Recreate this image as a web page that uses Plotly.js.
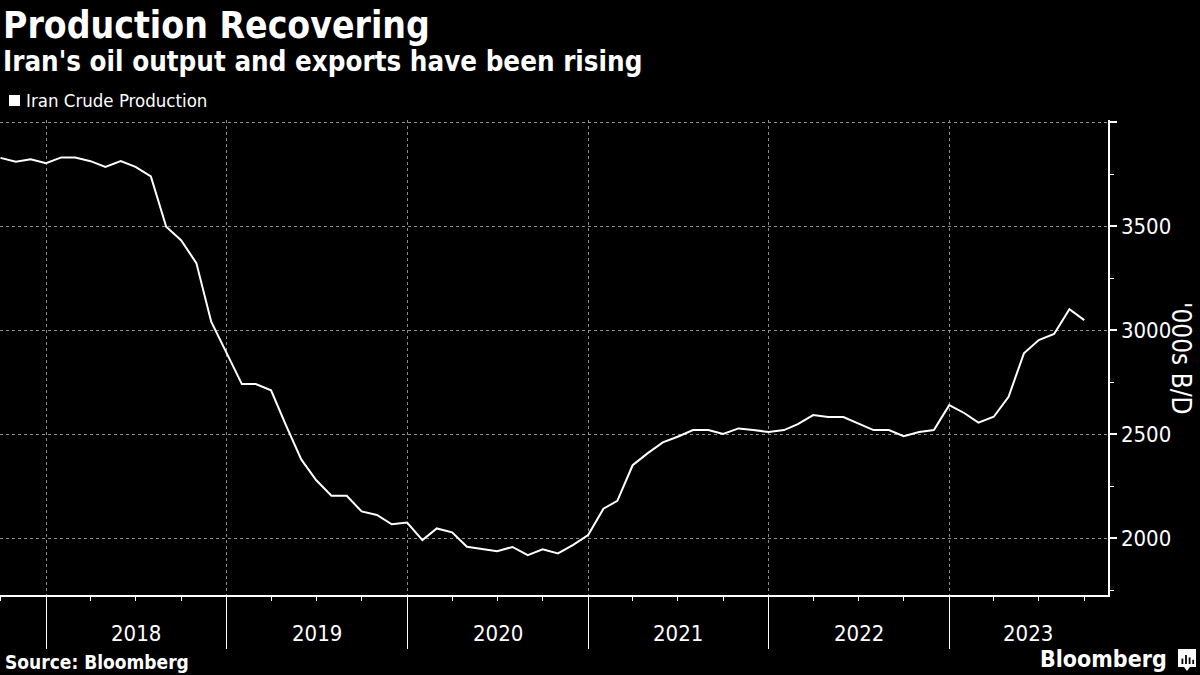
<!DOCTYPE html>
<html>
<head>
<meta charset="utf-8">
<script src="https://cdn.plot.ly/plotly-3.0.1.min.js"></script>
<style>
  html, body { margin: 0; padding: 0; background: #000; }
  #chart { width: 1200px; height: 675px; }
</style>
</head>
<body>
<div id="chart"></div>
<script>
// ---- DATA ----
const months = [
  '2017-10-01','2017-11-01','2017-12-01',
  '2018-01-01','2018-02-01','2018-03-01','2018-04-01','2018-05-01','2018-06-01','2018-07-01','2018-08-01','2018-09-01','2018-10-01','2018-11-01','2018-12-01',
  '2019-01-01','2019-02-01','2019-03-01','2019-04-01','2019-05-01','2019-06-01','2019-07-01','2019-08-01','2019-09-01','2019-10-01','2019-11-01','2019-12-01',
  '2020-01-01','2020-02-01','2020-03-01','2020-04-01','2020-05-01','2020-06-01','2020-07-01','2020-08-01','2020-09-01','2020-10-01','2020-11-01','2020-12-01',
  '2021-01-01','2021-02-01','2021-03-01','2021-04-01','2021-05-01','2021-06-01','2021-07-01','2021-08-01','2021-09-01','2021-10-01','2021-11-01','2021-12-01',
  '2022-01-01','2022-02-01','2022-03-01','2022-04-01','2022-05-01','2022-06-01','2022-07-01','2022-08-01','2022-09-01','2022-10-01','2022-11-01','2022-12-01',
  '2023-01-01','2023-02-01','2023-03-01','2023-04-01','2023-05-01','2023-06-01','2023-07-01','2023-08-01','2023-09-01','2023-10-01'
];
const iranCrudeProduction = [
  3828, 3809, 3821,
  3802, 3830, 3830, 3812, 3784, 3812, 3785, 3739, 3497, 3432, 3322, 3040,
  2893, 2740, 2740, 2710, 2543, 2378, 2279, 2203, 2203, 2128, 2111, 2066,
  2074, 1990, 2046, 2027, 1958, 1947, 1937, 1957, 1918, 1946, 1926, 1966,
  2014, 2141, 2179, 2350, 2407, 2460, 2487, 2519, 2519, 2500, 2527, 2519,
  2510, 2519, 2548, 2591, 2582, 2582, 2550, 2519, 2519, 2490, 2510, 2519,
  2639, 2600, 2555, 2583, 2679, 2888, 2952, 2981, 3100, 3048
];
const years = ['2018', '2019', '2020', '2021', '2022', '2023'];
const yTickVals = [2000, 2500, 3000, 3500, 4000];
const yTickText = ['2000', '2500', '3000', '3500', ''];
const seriesName = 'Iran Crude Production';
const titleText = 'Production Recovering';
const subtitleText = "Iran's oil output and exports have been rising";
const yTitleText = "'000s B/D";
const sourceText = 'Source: Bloomberg';
const logoBars = [0.45, 0.75, 0.55, 0.35]; // relative bar heights in logo mark (decorative)

// ---- LAYOUT GEOMETRY ----
const W = 1200, H = 675;
const M = { l: 0, r: 92, t: 120, b: 80 };
const plotW = W - M.l - M.r, plotH = H - M.t - M.b;
const px = x => (x - M.l) / plotW;          // pixel -> paper x
const py = y => (H - M.b - y) / plotH;      // pixel -> paper y
const xRange = ['2017-09-30', '2023-11-18'];
const yRange = [1726, 4010];

const narrow = '"Liberation Sans Narrow", "DejaVu Sans Condensed", "Arial Narrow", "Roboto Condensed", "Liberation Sans", sans-serif';

// Year label positions: middle of each year's visible span
const rangeEnd = new Date(xRange[1] + 'T00:00:00Z').getTime();
const yearAnnotations = years.map(y => {
  const s = new Date(y + '-01-01T00:00:00Z').getTime();
  const e = Math.min(new Date((+y + 1) + '-01-01T00:00:00Z').getTime(), rangeEnd);
  const mid = new Date((s + e) / 2).toISOString().slice(0, 10);
  return {
    x: mid, xref: 'x', y: py(633), yref: 'paper',
    text: y, showarrow: false, xanchor: 'center', yanchor: 'middle',
    font: { family: narrow, size: 22, color: '#ffffff' }
  };
});

const trace = {
  x: months,
  y: iranCrudeProduction,
  type: 'scatter',
  mode: 'lines',
  name: seriesName,
  line: { color: '#ffffff', width: 2 },
  showlegend: false,
  hoverinfo: 'x+y'
};

// Logo mark: white rounded-ish tile with small dark bars
const logoShapes = [
  { type: 'rect', xref: 'paper', yref: 'paper',
    x0: px(1178), x1: px(1196), y0: py(667), y1: py(649),
    fillcolor: '#ffffff', line: { width: 0 } },
  { type: 'path', xref: 'paper', yref: 'paper',
    path: 'M ' + px(1184) + ' ' + py(667) + ' L ' + px(1187) + ' ' + py(671) + ' L ' + px(1190) + ' ' + py(667) + ' Z',
    fillcolor: '#ffffff', line: { width: 0 } }
].concat(logoBars.map((h, i) => ({
  type: 'rect', xref: 'paper', yref: 'paper',
  x0: px(1181.5 + i * 3.6), x1: px(1183.3 + i * 3.6),
  y0: py(664), y1: py(664 - 12 * h),
  fillcolor: '#000000', line: { width: 0 }
})));

const layout = {
  width: W, height: H,
  margin: M,
  paper_bgcolor: '#000000',
  plot_bgcolor: '#000000',
  showlegend: false,
  xaxis: {
    type: 'date',
    range: xRange,
    showline: true, linecolor: '#ffffff', linewidth: 1.5,
    showgrid: true, gridcolor: '#8a8a8a', griddash: 'dot', gridwidth: 1,
    tick0: '2018-01-01', dtick: 'M12',
    ticks: 'outside', ticklen: 52, tickwidth: 1, tickcolor: '#ffffff',
    showticklabels: false,
    minor: { dtick: 'M3', tick0: '2018-01-01', ticks: 'outside', ticklen: 4, tickwidth: 1, tickcolor: '#ffffff', showgrid: false },
    zeroline: false, fixedrange: true
  },
  yaxis: {
    side: 'right',
    range: yRange,
    showline: true, linecolor: '#ffffff', linewidth: 1.5,
    showgrid: true, gridcolor: '#8a8a8a', griddash: 'dot', gridwidth: 1,
    tickmode: 'array', tickvals: yTickVals, ticktext: yTickText,
    ticks: 'outside', ticklen: 7, tickwidth: 2, tickcolor: '#ffffff',
    minor: { dtick: 250, tick0: 0, ticks: 'outside', ticklen: 4, tickwidth: 1, tickcolor: '#ffffff', showgrid: false },
    tickfont: { family: narrow, size: 22, color: '#ffffff' },
    zeroline: false, fixedrange: true
  },
  shapes: [
    // legend swatch
    { type: 'rect', xref: 'paper', yref: 'paper',
      x0: px(9), x1: px(20), y0: py(106), y1: py(95),
      fillcolor: '#ffffff', line: { width: 0 } }
  ].concat(logoShapes),
  annotations: [
    { text: '<b>' + titleText + '</b>', xref: 'paper', yref: 'paper',
      x: px(1), y: py(25), xanchor: 'left', yanchor: 'middle', showarrow: false,
      font: { family: narrow, size: 37, color: '#ffffff' } },
    { text: '<b>' + subtitleText + '</b>', xref: 'paper', yref: 'paper',
      x: px(1), y: py(61), xanchor: 'left', yanchor: 'middle', showarrow: false,
      font: { family: narrow, size: 27.5, color: '#ffffff' } },
    { text: seriesName, xref: 'paper', yref: 'paper',
      x: px(24), y: py(101), xanchor: 'left', yanchor: 'middle', showarrow: false,
      font: { family: narrow, size: 18.5, color: '#ffffff' } },
    { text: yTitleText, xref: 'paper', yref: 'paper', textangle: 90,
      x: px(1181), y: py(358), xanchor: 'center', yanchor: 'middle', showarrow: false,
      font: { family: narrow, size: 26, color: '#ffffff' } },
    { text: '<b>' + sourceText + '</b>', xref: 'paper', yref: 'paper',
      x: px(3), y: py(662), xanchor: 'left', yanchor: 'middle', showarrow: false,
      font: { family: narrow, size: 19, color: '#ffffff' } },
    { text: '<b>Bloomberg</b>', xref: 'paper', yref: 'paper',
      x: px(1169), y: py(659), xanchor: 'right', yanchor: 'middle', showarrow: false,
      font: { family: narrow, size: 23, color: '#ffffff' } }
  ].concat(yearAnnotations)
};

Plotly.newPlot('chart', [trace], layout, { displayModeBar: false, staticPlot: true });
</script>
</body>
</html>
